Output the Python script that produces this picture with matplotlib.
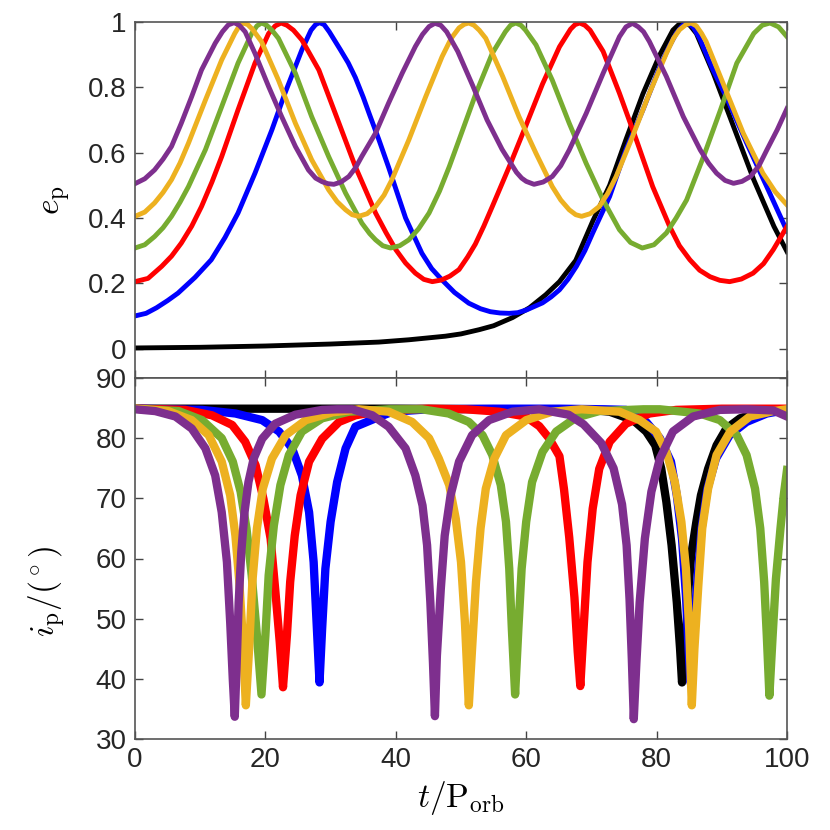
import matplotlib.pyplot as plt

plt.rcParams['font.family'] = ['Liberation Sans', 'DejaVu Sans']
plt.rcParams['mathtext.fontset'] = 'cm'

# line colours (MATLAB default palette + pure k/b/r)
c_black = 'k'
c_blue = '#0000ff'
c_red = '#ff0000'
c_green = '#77ac30'
c_yellow = '#edb120'
c_purple = '#7e2f8e'

# ---------------- eccentricity e_p(t) ----------------
t_e_black = [0, 10, 20, 30, 37.4, 42, 47.6, 50, 52.8, 55, 57.9, 60.5, 63.0, 65.1, 67.6,
             70.2, 72.8, 75.3, 77.9, 80.5, 82.5, 83.4, 84.2, 85.1, 86.1, 88.7, 91.8, 94.9,
             98.0, 100]
e_black = [0.002, 0.004, 0.008, 0.014, 0.02, 0.027, 0.038, 0.045, 0.058, 0.07, 0.095, 0.125,
           0.165, 0.205, 0.27, 0.39, 0.50, 0.64, 0.78, 0.90, 0.975, 0.992, 0.997, 0.99,
           0.965, 0.843, 0.68, 0.517, 0.374, 0.297]

t_e_blue = [0, 1.7, 3.3, 5.0, 6.6, 9.2, 11.7, 13.8, 15.8, 18.4, 21.0, 23.0, 25.6, 27.0, 27.7,
            28.3, 29.0, 29.8, 31.5, 32.7, 33.8, 35.0, 36.0, 37.4, 38.9, 41.5, 44.0, 45.5,
            47.1, 49.0, 51.2, 53.0, 54.5, 56.0, 57.4, 58.7, 60.0, 62.5, 63.8, 65.1, 66.4,
            67.7, 69.0, 70.2, 72.8, 75.3, 77.9, 80.5, 81.8, 83.0, 84.0, 84.8, 85.6, 86.6,
            88.5, 90.7, 93.8, 96.8, 100]
e_blue = [0.1, 0.108, 0.125, 0.147, 0.17, 0.218, 0.272, 0.34, 0.415, 0.537, 0.67, 0.782,
          0.915, 0.975, 0.992, 0.998, 0.992, 0.97, 0.915, 0.875, 0.83, 0.77, 0.715, 0.64,
          0.555, 0.40, 0.292, 0.245, 0.21, 0.172, 0.139, 0.122, 0.113, 0.109, 0.108, 0.11,
          0.118, 0.14, 0.158, 0.18, 0.212, 0.252, 0.30, 0.354, 0.466, 0.609, 0.731, 0.863,
          0.92, 0.965, 0.99, 0.996, 0.985, 0.95, 0.86, 0.77, 0.63, 0.50, 0.36]

t_e_red = [0, 2.0, 4.1, 5.6, 7.1, 8.7, 10.2, 11.8, 13.3, 15.8, 18.4, 20.5, 21.5, 22.4, 23.3,
           24.3, 25.6, 28.2, 30.7, 33.8, 36.9, 38.5, 40.0, 41.5, 43.0, 44.3, 45.6, 47.0, 48.3,
           49.7, 51.0, 52.2, 53.5, 54.8, 57.4, 59.9, 62.5, 65.1, 66.8, 67.5, 68.2, 69.0, 69.8,
           71.8, 74.3, 76.9, 79.4, 82.0, 83.5, 85.1, 86.6, 88.2, 89.7, 91.2, 93.0, 94.8, 96.4,
           97.9, 100]
e_red = [0.205, 0.215, 0.252, 0.283, 0.323, 0.375, 0.435, 0.51, 0.588, 0.731, 0.874, 0.965,
         0.988, 0.997, 0.99, 0.975, 0.945, 0.853, 0.721, 0.557, 0.415, 0.355, 0.303, 0.262,
         0.231, 0.212, 0.205, 0.21, 0.222, 0.242, 0.28, 0.32, 0.375, 0.435, 0.557, 0.68, 0.81,
         0.924, 0.978, 0.992, 0.997, 0.99, 0.975, 0.91, 0.782, 0.639, 0.496, 0.374, 0.315,
         0.272, 0.24, 0.22, 0.209, 0.205, 0.213, 0.231, 0.26, 0.303, 0.374]

t_e_green = [0, 1.5, 3.0, 4.3, 5.6, 6.9, 8.2, 10.8, 13.3, 15.8, 17.9, 18.7, 19.4, 20.2, 21.0,
             22.0, 24.6, 27.1, 29.7, 32.3, 34.8, 36.0, 36.9, 38.0, 39.2, 40.6, 42.0, 43.5,
             45.1, 46.7, 48.2, 49.7, 52.3, 54.8, 56.8, 57.6, 58.4, 59.2, 59.9, 61.5, 64.0,
             66.6, 69.2, 71.8, 74.3, 76.0, 77.8, 79.6, 81.5, 83.0, 84.6, 87.2, 89.8, 92.3,
             94.9, 96.2, 97.4, 98.7, 100]
e_green = [0.308, 0.318, 0.343, 0.37, 0.405, 0.448, 0.496, 0.609, 0.741, 0.874, 0.965, 0.988,
           0.997, 0.99, 0.975, 0.95, 0.843, 0.71, 0.588, 0.476, 0.384, 0.352, 0.333, 0.315,
           0.308, 0.315, 0.333, 0.367, 0.415, 0.482, 0.557, 0.639, 0.782, 0.904, 0.97, 0.99,
           0.997, 0.99, 0.975, 0.93, 0.822, 0.69, 0.567, 0.455, 0.364, 0.325, 0.308, 0.318,
           0.354, 0.40, 0.455, 0.588, 0.731, 0.874, 0.965, 0.99, 0.997, 0.985, 0.955]

t_e_yellow = [0, 1.5, 3.0, 4.3, 5.6, 6.9, 8.2, 10.8, 13.3, 15.3, 16.0, 16.6, 17.3, 18.0, 19.4,
              22.0, 24.6, 27.1, 29.7, 31.0, 32.3, 33.3, 34.3, 35.6, 36.9, 38.2, 39.4, 42.0,
              44.6, 47.1, 48.5, 49.7, 50.5, 51.2, 52.0, 52.8, 53.8, 56.4, 58.9, 61.5, 64.0,
              65.3, 66.6, 67.6, 68.5, 69.8, 71.2, 72.5, 73.8, 76.3, 78.9, 81.5, 82.6, 83.5,
              84.5, 85.3, 86.1, 86.9, 87.6, 90.2, 93.3, 96.3, 98.2, 100]
e_yellow = [0.405, 0.418, 0.446, 0.478, 0.517, 0.568, 0.629, 0.761, 0.884, 0.965, 0.988,
            0.997, 0.992, 0.978, 0.94, 0.822, 0.69, 0.578, 0.486, 0.45, 0.425, 0.41, 0.405,
            0.413, 0.435, 0.47, 0.517, 0.639, 0.772, 0.894, 0.95, 0.982, 0.993, 0.997, 0.99,
            0.975, 0.95, 0.833, 0.71, 0.598, 0.496, 0.455, 0.425, 0.41, 0.405, 0.413, 0.435,
            0.475, 0.527, 0.649, 0.782, 0.904, 0.95, 0.976, 0.992, 0.997, 0.988, 0.965, 0.94,
            0.812, 0.659, 0.537, 0.48, 0.44]

t_e_purple = [0, 1.5, 3.0, 4.3, 5.6, 7.1, 8.7, 10.2, 12.3, 13.4, 14.3, 15.2, 16.0, 16.9, 18.4,
              20.5, 22.5, 24.6, 26.6, 27.7, 28.7, 29.6, 30.5, 31.6, 32.8, 33.8, 34.8, 36.9,
              38.9, 41.0, 43.0, 44.1, 45.1, 46.0, 46.9, 47.8, 49.5, 51.8, 54.0, 56.3, 58.5,
              59.3, 60.0, 61.2, 62.6, 64.0, 65.3, 66.6, 69.2, 71.8, 74.3, 75.3, 76.3, 77.2,
              78.0, 78.9, 81.5, 84.1, 86.7, 88.0, 89.2, 90.5, 91.8, 93.1, 94.4, 95.7, 96.9,
              98.5, 100]
e_purple = [0.505, 0.52, 0.547, 0.58, 0.619, 0.69, 0.772, 0.853, 0.935, 0.97, 0.991, 0.998,
            0.99, 0.97, 0.904, 0.802, 0.71, 0.619, 0.547, 0.522, 0.511, 0.505, 0.503, 0.51,
            0.527, 0.553, 0.589, 0.66, 0.752, 0.844, 0.925, 0.962, 0.986, 0.996, 0.99, 0.97,
            0.91, 0.805, 0.70, 0.61, 0.54, 0.522, 0.512, 0.503, 0.51, 0.527, 0.56, 0.608, 0.72,
            0.843, 0.955, 0.985, 0.996, 0.985, 0.97, 0.94, 0.833, 0.71, 0.608, 0.567, 0.537,
            0.515, 0.506, 0.512, 0.527, 0.56, 0.608, 0.67, 0.735]

# ---------------- inclination i_p(t) in degrees ----------------
t_i_black = [0, 20, 40, 60, 70, 72.8, 76.4, 78.4, 79.8, 80.7, 81.5, 82.3, 83.1, 83.6, 83.9,
             84.5, 84.8, 85.3, 86.1, 86.8, 87.9, 89.2, 90.7, 92.8, 95.9, 100]
i_black = [84.9, 84.9, 84.9, 84.8, 84.7, 84.4, 83.0, 81.1, 78.8, 75.0, 69.4, 62.2, 52.7,
           45.0, 39.4, 46.1, 53.8, 60.5, 66.1, 70.5, 74.9, 78.8, 81.6, 83.3, 84.4, 84.8]

t_i_blue = [0, 10.3, 15.4, 19.5, 22.1, 24.1, 25.6, 26.7, 27.4, 27.9, 28.3, 28.7, 29.2, 30.0,
            31.0, 32.3, 33.8, 36.9, 39.5, 45, 55, 65, 72,
            75.3, 78.4, 80.5, 82.2, 83.1, 83.9, 84.5, 84.9, 85.2, 85.7, 86.3, 86.9, 87.8,
            89.1, 91.2, 93.8, 96.9, 100]
i_blue = [84.9, 84.7, 84.1, 83.0, 81.1, 78.3, 73.8, 67.7, 59.4, 48.3, 39.4, 48.3, 58.3, 66.1,
          72.7, 78.3, 81.9, 83.3, 84.4, 84.8, 84.9, 84.9, 84.8,
          84.7, 82.7, 80.0, 76.1, 70.5, 63.3, 53.8, 45.0, 39.4, 48.3, 57.2, 65.0, 71.6,
          76.6, 80.5, 82.7, 84.1, 84.7]

t_i_red = [0, 7.7, 11.8, 14.9, 16.9, 18.5, 19.7, 20.8, 21.5, 22.2, 22.7, 23.3, 23.8, 24.5,
           25.4, 26.7, 28.7, 31.3, 33.8, 38, 45, 50.7, 55.8, 59.9, 62.0, 63.5, 65.1, 65.8,
           66.6, 67.4, 67.9, 68.3, 68.8, 69.4, 70.2, 71.2, 72.8, 75.3, 78.9, 83.0, 90, 100]
i_red = [84.9, 84.7, 83.8, 82.2, 79.4, 75.5, 69.9, 63.3, 54.9, 46.1, 38.6, 47.2, 56.1, 63.8,
         70.5, 76.1, 79.9, 82.7, 83.8, 84.6, 84.9, 84.8, 84.4, 83.6, 82.0, 80.0, 77.0, 71.5,
         63.5, 53.5, 44.5, 38.8, 48.3, 59.4, 68.3, 74.9, 79.4, 82.4, 84.1, 84.7, 84.9, 84.9]

t_i_green = [0, 6.7, 10.3, 13.3, 15.0, 16.2, 17.1, 17.9, 18.7, 19.4, 20.0, 20.5, 21.3, 22.3,
             23.6, 25.6, 28.7, 32.8, 39.0,
             44.0, 48.1, 51.2, 53.3, 54.8, 56.1, 56.9, 57.4, 57.8, 58.3, 58.8, 59.3, 60.0,
             60.9, 62.5, 64.6, 67.6, 71.2, 78.0,
             80.5, 86.6, 89.7, 92.3, 93.8, 95.1, 95.9, 96.5, 96.9, 97.3, 97.8, 98.3, 99.0,
             99.5, 100]
i_green = [84.9, 84.5, 83.0, 80.0, 76.1, 71.1, 65.0, 57.2, 47.2, 37.4, 47.2, 57.2, 65.5, 72.2,
           77.2, 81.1, 83.3, 84.4, 84.8,
           84.8, 84.1, 82.7, 80.5, 77.2, 72.2, 66.1, 58.3, 48.3, 37.4, 48.3, 58.3, 66.1,
           72.7, 77.7, 81.1, 83.4, 84.5, 84.8,
           84.8, 84.1, 83.0, 80.5, 77.2, 71.6, 65.0, 56.1, 47.2, 37.2, 47.2, 56.6, 65.0,
           70.5, 74.7]

t_i_yellow = [0, 5.1, 8.7, 11.3, 13.3, 14.6, 15.4, 16.0, 16.5, 17.0, 17.5, 18.0, 18.7, 19.6,
              21.0, 23.1, 26.2, 30.3, 34.3,
              38.9, 42.5, 45.1, 46.6, 48.2, 49.2, 50.0, 50.6, 51.2, 51.7, 52.3, 53.0, 53.8,
              55.1, 56.9, 60.0, 64.0, 68.5,
              74.3, 77.4, 79.9, 81.5, 82.8, 83.8, 84.5, 85.0, 85.4, 85.8, 86.4, 87.0, 87.9,
              89.2, 91.3, 94.3, 97.9, 100]
i_yellow = [84.9, 84.5, 83.0, 80.5, 76.1, 70.5, 63.8, 56.1, 47.2, 35.6, 45.0, 56.1, 65.0, 71.6,
            76.6, 80.5, 83.0, 84.3, 84.8,
            84.4, 82.7, 80.0, 76.6, 72.2, 66.6, 59.4, 49.4, 35.6, 45.0, 56.1, 65.0, 71.6,
            76.6, 80.5, 83.0, 84.4, 84.8,
            84.4, 83.0, 81.1, 77.7, 72.7, 66.1, 58.3, 48.3, 35.6, 45.0, 55.5, 65.0, 71.6,
            77.2, 81.1, 83.6, 84.5, 84.8]

t_i_purple = [0, 3.1, 6.2, 8.7, 10.8, 12.3, 13.3, 14.1, 14.6, 15.0, 15.3, 15.6, 15.9, 16.3,
              16.8, 17.4, 18.2, 19.5, 21.5, 24.6, 28.7, 31.0,
              33.3, 36.4, 38.9, 41.5, 43.0, 44.1, 44.8, 45.3, 45.7, 46.0, 46.3, 46.9, 47.5,
              48.4, 49.7, 51.7, 54.3, 57.9, 62.0,
              66.5, 68.8, 71.5, 73.4, 74.7, 75.4, 75.85, 76.2, 76.5, 76.9, 77.4, 78.2, 79.2,
              80.5, 82.5, 85.6, 89.7, 93.8, 97.9, 100]
i_purple = [84.8, 84.5, 83.6, 81.6, 78.3, 73.8, 67.7, 59.4, 49.4, 39.9, 33.7, 42.7, 52.7, 61.1,
            67.7, 72.7, 76.6, 79.9, 82.4, 83.9, 84.7, 84.8,
            84.8, 83.8, 81.9, 78.3, 73.8, 68.8, 62.2, 52.7, 42.7, 33.8, 43.8, 54.9, 63.8,
            70.5, 76.1, 80.5, 83.0, 84.4, 84.8,
            83.9, 82.3, 79.2, 75.0, 69.0, 62.2, 53.2, 43.3, 33.3, 42.7, 52.7, 63.3, 71.1,
            76.6, 81.1, 83.6, 84.7, 84.8, 84.6, 83.6]

W, H = 830, 830
fig = plt.figure(figsize=(W / 100, H / 100), dpi=100)
left, right = 135 / W, 787 / W
ax1 = fig.add_axes([left, 1 - 378 / H, right - left, (378 - 22) / H])
ax2 = fig.add_axes([left, 1 - 739 / H, right - left, (739 - 378) / H])

lw_top = 3.5
lw_bot = 6.0
top_series = [(t_e_black, e_black, c_black), (t_e_blue, e_blue, c_blue),
              (t_e_red, e_red, c_red), (t_e_green, e_green, c_green),
              (t_e_yellow, e_yellow, c_yellow), (t_e_purple, e_purple, c_purple)]
bot_series = [(t_i_black, i_black, c_black), (t_i_blue, i_blue, c_blue),
              (t_i_red, i_red, c_red), (t_i_green, i_green, c_green),
              (t_i_yellow, i_yellow, c_yellow), (t_i_purple, i_purple, c_purple)]

for t, v, c in top_series:
    ax1.plot(t, v, color=c, lw=lw_top, solid_joinstyle='round')
for t, v, c in bot_series:
    ax2.plot(t, v, color=c, lw=lw_bot, solid_joinstyle='round')

ax1.set_xlim(0, 100)
ax1.set_ylim(-0.09, 1)
ax1.set_yticks([0, 0.2, 0.4, 0.6, 0.8, 1])
ax1.set_yticklabels(['0', '0.2', '0.4', '0.6', '0.8', '1'])
ax1.set_xticks([0, 20, 40, 60, 80, 100])
ax1.set_xticklabels([])

ax2.set_xlim(0, 100)
ax2.set_ylim(30, 90)
ax2.set_yticks([30, 40, 50, 60, 70, 80, 90])
ax2.set_xticks([0, 20, 40, 60, 80, 100])

for ax in (ax1, ax2):
    ax.tick_params(direction='in', top=True, right=True, length=6, width=1.0,
                   labelsize=20, colors='#444444', labelcolor='#262626', pad=6)
    for s in ax.spines.values():
        s.set_color('#555555')
        s.set_linewidth(1.2)

ax1.set_ylabel(r'$e_{\rm p}$', fontsize=24)
ax1.yaxis.set_label_coords(-0.095, 0.5)
ax2.set_ylabel(r'$i_{\rm p}/(^\circ)$', fontsize=24)
ax2.yaxis.set_label_coords(-0.102, 0.41)
ax2.set_xlabel(r'$t/{\rm P}_{\rm orb}$', fontsize=24, labelpad=4)

fig.savefig('out.png', dpi=100)
